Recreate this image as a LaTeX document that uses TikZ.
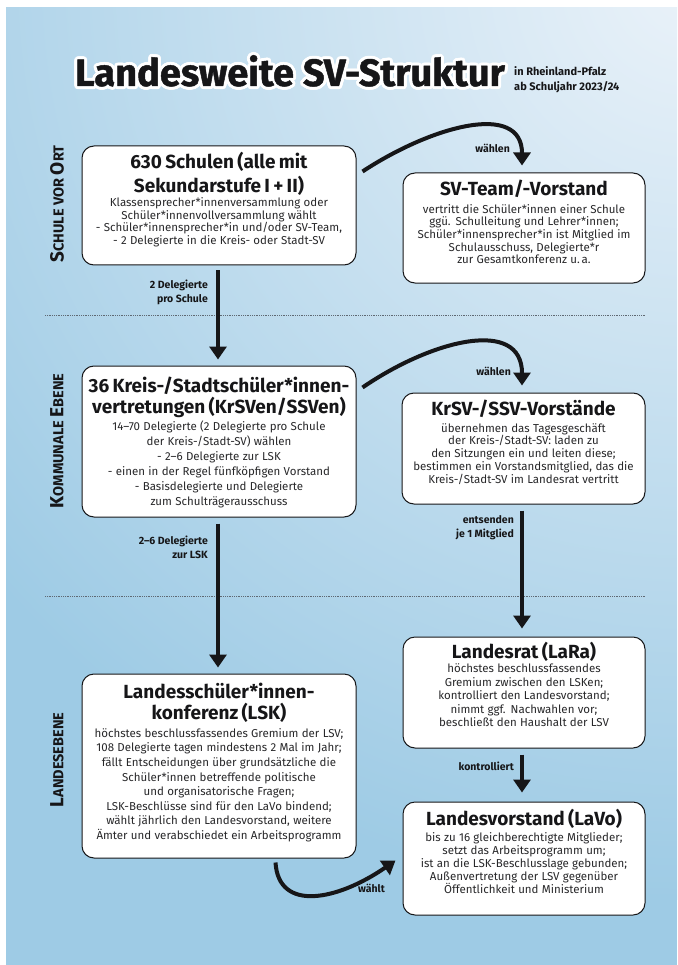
\documentclass[tikz,border=0pt]{standalone}
\usepackage{fontspec}
\setmainfont{Fira Sans}
\newfontfamily\titlefont[FakeBold=1.2]{Fira Sans}
\usetikzlibrary{arrows.meta,calc}
\definecolor{bgblue}{RGB}{158,203,229}
\definecolor{bglight}{RGB}{234,242,249}
\definecolor{ink}{RGB}{22,22,24}
\definecolor{txtgray}{RGB}{40,40,42}
\definecolor{dotgray}{RGB}{95,105,115}
\newcommand\tightlines{\lineskiplimit=-1000pt\lineskip=0pt\parindent=0pt\parskip=0pt\relax}
\newcommand\bx[5]{{\bfseries\fontsize{19}{#1}\selectfont\color{ink}\rule{0pt}{16pt}#2\par}\vspace{#3}{\fontsize{11.5}{#4}\selectfont #5\par}}
\newcommand\bigc[1]{{\fontsize{19}{19}\selectfont #1}}
\newcommand\smlc[1]{{\fontsize{14.5}{14.5}\selectfont #1}}
\newcommand\titletext{Landesweite SV-Struktur}
\begin{document}
\begin{tikzpicture}[x=1pt,y=-1pt,
  box/.style={draw=ink, line width=1pt, fill=white, rounded corners=12pt, inner sep=0pt},
  txt/.style={inner sep=0pt, align=center, text=txtgray, anchor=north, font=\tightlines},
  lbl/.style={inner sep=0pt, font=\tightlines\bfseries\fontsize{10.5}{14}\selectfont, text=ink, align=right},
  arr/.style={line width=4pt, draw=ink, -{Triangle[width=17pt,length=13pt]}},
  sep/.style={draw=dotgray, line width=0.8pt, dash pattern=on 0.9pt off 0.9pt},
  side/.style={inner sep=0pt, rotate=90, font=\bfseries, text=ink},
  ttl/.style={inner sep=0pt, anchor=base west, font=\titlefont\bfseries\fontsize{38}{38}\selectfont},
  subt/.style={inner sep=0pt, anchor=base west, font=\bfseries\fontsize{11}{12}\selectfont, text=ink},
]
\useasboundingbox (0,0) rectangle (677,965);
% background
\fill[bgblue] (6,8) rectangle (677,965);
\begin{scope}
  \clip (6,8) rectangle (677,965);
  \shade[inner color=bglight, outer color=bgblue] (690,-20) circle (920);
\end{scope}

% title
\foreach \a [count=\i] in {0,22.5,...,337.5}
  \node[ttl, text=white] (tw\i) at ($(75,86)+(\a:3)$) {\titletext};
\node[ttl, text=ink] (title) at (75,86) {\titletext};
\node[subt] (sub1) at ($(title.base east)+(9,-10)$) {in Rheinland-Pfalz};
\node[subt] (sub2) at ($(title.base east)+(9,5)$) {ab Schuljahr 2023/24};

% level separators
\draw[sep] (45,315) -- (645,315);
\draw[sep] (45,596) -- (645,596);

% side labels
\node[side] (s1) at (57,204) {\bigc{S}\smlc{CHULE VOR }\bigc{O}\smlc{RT}};
\node[side] (s2) at (57,441) {\bigc{K}\smlc{OMMUNALE }\bigc{E}\smlc{BENE}};
\node[side] (s3) at (57,760) {\bigc{L}\smlc{ANDESEBENE}};

% boxes
\node[box, minimum width=274pt, minimum height=119pt] (b1) at (219,205.5) {};
\node[box, minimum width=242pt, minimum height=110pt] (sv) at (524,228) {};
\node[box, minimum width=274pt, minimum height=151pt] (b2) at (219,441.5) {};
\node[box, minimum width=243pt, minimum height=111pt] (kr) at (523.5,448.5) {};
\node[box, minimum width=274pt, minimum height=184pt] (lsk) at (219,766) {};
\node[box, minimum width=242pt, minimum height=111pt] (lara) at (524,692.5) {};
\node[box, minimum width=242pt, minimum height=113pt] (lavo) at (524,858.5) {};

% box texts
\node[txt, text width=274pt] (b1t) at (219,152) {\bx{24pt}{630 Schulen (alle mit\\Sekundarstufe I + II)}{1.5pt}{12.5pt}{Klassensprecher*innenversammlung oder\\Schüler*innenvollversammlung wählt\\- Schüler*innensprecher*in und/oder SV-Team,\\- 2 Delegierte in die Kreis- oder Stadt-SV}};
\node[txt, text width=242pt] (svt) at (524,179) {\bx{21pt}{SV-Team/-Vorstand}{5.3pt}{12.7pt}{vertritt die Schüler*innen einer Schule\\ggü. Schulleitung und Lehrer*innen;\\Schüler*innensprecher*in ist Mitglied im\\Schulausschuss, Delegierte*r\\zur Gesamtkonferenz u.\,a.}};
\node[txt, text width=274pt] (b2t) at (219,376) {\bx{21pt}{36 Kreis-/Stadtschüler*innen-\\vertretungen (KrSVen/SSVen)}{2pt}{15pt}{14–70 Delegierte (2 Delegierte pro Schule\\der Kreis-/Stadt-SV) wählen\\- 2–6 Delegierte zur LSK\\- einen in der Regel fünfköpfigen Vorstand\\- Basisdelegierte und Delegierte\\zum Schulträgerausschuss}};
\node[txt, text width=243pt] (krt) at (523.5,399) {\bx{21pt}{KrSV-/SSV-Vorstände}{4.25pt}{12.75pt}{übernehmen das Tagesgeschäft\\der Kreis-/Stadt-SV: laden zu\\den Sitzungen ein und leiten diese;\\bestimmen ein Vorstandsmitglied, das die\\Kreis-/Stadt-SV im Landesrat vertritt}};
\node[txt, text width=274pt] (lskt) at (219,682) {\bx{21pt}{Landesschüler*innen-\\konferenz (LSK)}{3.4pt}{14.6pt}{höchstes beschlussfassendes Gremium der LSV;\\108 Delegierte tagen mindestens 2 Mal im Jahr;\\fällt Entscheidungen über grundsätzliche die\\Schüler*innen betreffende politische\\und organisatorische Fragen;\\LSK-Beschlüsse sind für den LaVo bindend;\\wählt jährlich den Landesvorstand, weitere\\Ämter und verabschiedet ein Arbeitsprogramm}};
\node[txt, text width=242pt] (larat) at (524,642) {\bx{21pt}{Landesrat (LaRa)}{0.5pt}{13.5pt}{höchstes beschlussfassendes\\Gremium zwischen den LSKen;\\kontrolliert den Landesvorstand;\\nimmt ggf. Nachwahlen vor;\\beschließt den Haushalt der LSV}};
\node[txt, text width=242pt] (lavot) at (524,809) {\bx{21pt}{Landesvorstand (LaVo)}{3pt}{13pt}{bis zu 16 gleichberechtigte Mitglieder;\\setzt das Arbeitsprogramm um;\\ist an die LSK-Beschlusslage gebunden;\\Außenvertretung der LSV gegenüber\\Öffentlichkeit und Ministerium}};

% straight arrows
\draw[arr] ($(b1.south)+(-1,5)$) -- ($(b2.north)+(-1,-6)$);
\draw[arr] ($(b2.south)+(-1,6)$) -- ($(lsk.north)+(-1,-6)$);
\draw[arr] ($(kr.south)+(-1.5,6)$) -- ($(lara.north)+(-2,-8)$);
\draw[arr] ($(lara.south)+(-2,6)$) -- ($(lavo.north)+(-2,-9)$);

% curved arrows
\coordinate (c1a) at ($(b1.north east)+(6,26)$);
\coordinate (c1b) at ($(sv.north)+(-2,-7)$);
\draw[arr] (c1a) .. controls ($(c1a)+(70,-46)$) and ($(c1b)+(0,-64)$) .. (c1b);
\coordinate (c2a) at ($(b2.north east)+(6,22)$);
\coordinate (c2b) at ($(kr.north)+(-1.5,-7)$);
\draw[arr] (c2a) .. controls ($(c2a)+(70,-48)$) and ($(c2b)+(0,-68)$) .. (c2b);
\coordinate (c3a) at ($(lsk.south east)+(-81,4)$);
\coordinate (c3b) at ($(lavo.west)+(-7,2)$);
\draw[arr] (c3a) .. controls ($(c3a)+(3,50)$) and ($(c3b)+(-58,40)$) .. (c3b);

% connector labels
\node[lbl, anchor=base east] (l1) at (510,153) {wählen};
\node[lbl, anchor=base east] (l2) at (511,375) {wählen};
\node[lbl, anchor=base west] (l3) at (358,892) {wählt};
\node[lbl, anchor=north east] (l4) at (208,279) {\rule{0pt}{9pt}2 Delegierte\\pro Schule};
\node[lbl, anchor=north east] (l5) at (208,535) {\rule{0pt}{9pt}2–6 Delegierte\\zur LSK};
\node[lbl, anchor=north east] (l6) at (514,514) {\rule{0pt}{9pt}entsenden\\je 1 Mitglied};
\node[lbl, anchor=base east] (l7) at (514,770) {kontrolliert};
\end{tikzpicture}
\end{document}
